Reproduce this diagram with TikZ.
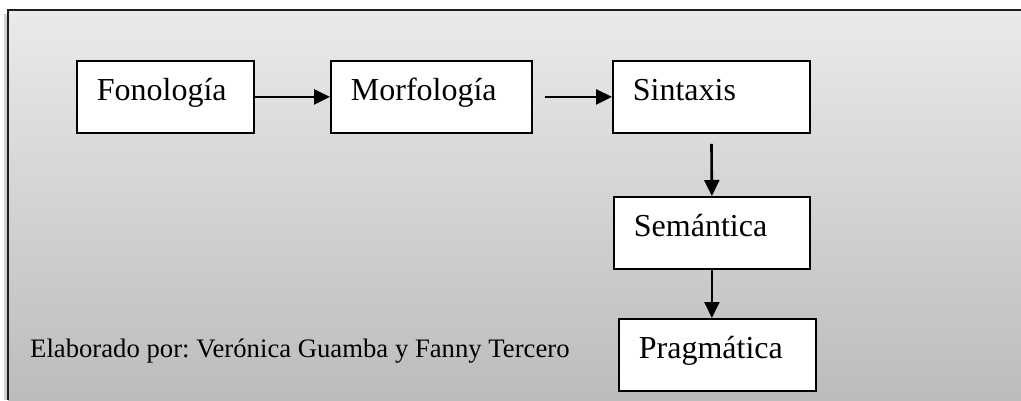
\documentclass[tikz,border=0pt]{standalone}
\usepackage{fontspec}
\setmainfont{Liberation Serif}
\frenchspacing
\usetikzlibrary{arrows.meta}
\definecolor{bgtop}{RGB}{234,234,234}
\definecolor{bgbot}{RGB}{188,188,188}
\definecolor{framec}{RGB}{30,30,30}
\begin{document}
\begin{tikzpicture}[x=1pt,y=-1pt,
  box/.style={draw=black, line width=1.8pt, fill=white, minimum height=72pt,
    inner xsep=20pt, inner ysep=0pt, align=left,
    font=\fontsize{32}{36}\selectfont, text height=22pt, text depth=14pt,
    anchor=north west},
  arr/.style={line width=2.6pt, -{Triangle[length=16pt,width=15pt]}},
  credit/.style={font=\fontsize{26.7}{30}\selectfont, inner sep=0pt, anchor=base west}]
\useasboundingbox (0,0) rectangle (1021,400);
\clip (0,0) rectangle (1021,400);
% background frame
\draw[line width=3pt, draw=black!18] (5,14) -- (5,400);
\shade[top color=bgtop, bottom color=bgbot] (8,10) rectangle (1021,400);
\draw[line width=2pt, draw=framec] (1021,10) -- (8,10) -- (8,400);
% boxes
\node[box, text width=137pt] (fon) at (76,60) {Fonología};
\node[box, text width=161pt] (mor) at (330,60) {Morfología};
\node[box, text width=157pt] (sin) at (612,60) {Sintaxis};
\node[box, text width=156pt] (sem) at (613,196) {Semántica};
\node[box, text width=157pt] (prag) at (618,318) {Pragmática};
% credit
\node[credit] (cred) at (30,357) {Elaborado por: Verónica Guamba y Fanny Tercero};
% arrows
\draw[arr] (fon.east) -- (mor.west);
\draw[arr, shorten <=12pt] (mor.east) -- (sin.west);
\draw[arr, shorten <=10pt] (sin.south) -- (sem.north);
\draw[arr] (sem.south) -- (sem.south |- prag.north);
\end{tikzpicture}
\end{document}
